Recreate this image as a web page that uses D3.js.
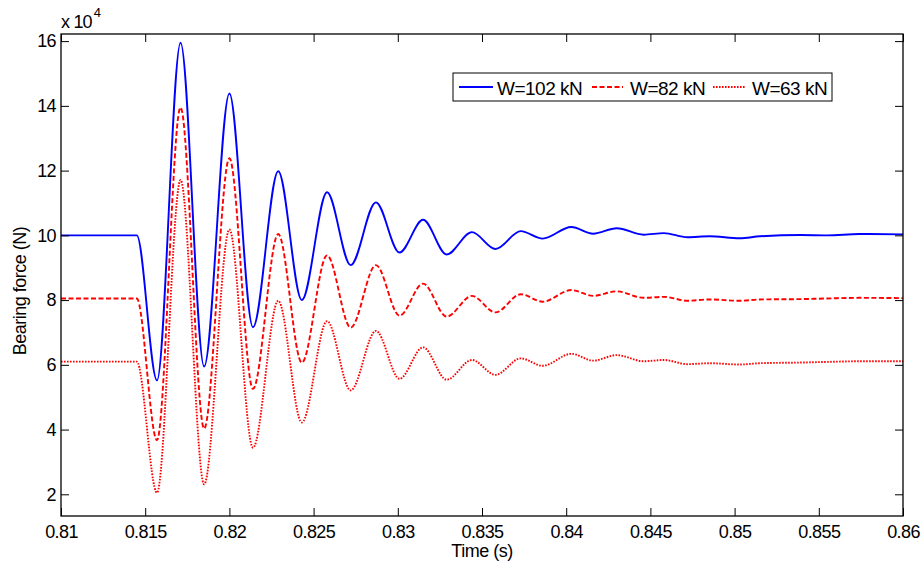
<!DOCTYPE html>
<html><head><meta charset="utf-8">
<script src="https://cdn.jsdelivr.net/npm/d3@7"></script>
<style>
html,body{margin:0;padding:0;background:#fff;}
text{font-family:"Liberation Sans",Arial,Helvetica,sans-serif;fill:#000;}
</style></head>
<body>
<svg id="chart" width="923" height="564"></svg>
<script>
// Time samples (s) at extrema of the response
const times = [0.81, 0.8145, 0.8157, 0.8171, 0.8185, 0.8200, 0.8214, 0.8229, 0.8243, 0.8258,
  0.8272, 0.8287, 0.8301, 0.8315, 0.8329, 0.8344, 0.8358, 0.8373, 0.8386, 0.8403,
  0.8416, 0.8430, 0.8446, 0.8458, 0.8472, 0.8485, 0.8503, 0.8515, 0.8539, 0.8555,
  0.8574, 0.86];
// Bearing force, in units of 10^4 N
const w102 = [10.0, 10.0, 5.52, 15.95, 5.95, 14.38, 7.16, 11.98, 8.0, 11.33,
  9.08, 11.02, 9.47, 10.48, 9.41, 10.10, 9.58, 10.13, 9.90, 10.26,
  10.05, 10.22, 10.02, 10.07, 9.94, 9.97, 9.91, 9.97, 10.01, 10.0,
  10.04, 10.03];
const w82 = [8.05, 8.05, 3.67, 13.95, 4.03, 12.38, 5.26, 10.04, 6.07, 9.38,
  7.15, 9.08, 7.52, 8.51, 7.49, 8.13, 7.62, 8.18, 7.95, 8.31,
  8.13, 8.27, 8.07, 8.10, 7.98, 8.02, 7.98, 8.02, 8.03, 8.05,
  8.07, 8.06];
const w63 = [6.10, 6.10, 2.05, 11.71, 2.31, 10.18, 3.44, 7.98, 4.22, 7.35,
  5.21, 7.05, 5.57, 6.54, 5.54, 6.15, 5.69, 6.20, 5.97, 6.34,
  6.13, 6.30, 6.11, 6.15, 6.02, 6.05, 6.01, 6.05, 6.07, 6.09,
  6.11, 6.11];
const seriesNames = ["W=102 kN", "W=82 kN", "W=63 kN"];
const xTicks = [0.81, 0.815, 0.82, 0.825, 0.83, 0.835, 0.84, 0.845, 0.85, 0.855, 0.86];
const yTicks = [2, 4, 6, 8, 10, 12, 14, 16];
const xTitle = "Time (s)";
const yTitle = "Bearing force (N)";

const svg = d3.select("#chart");
const L = 61, R = 903, T = 34, B = 516;
const x = d3.scaleLinear().domain([0.81, 0.86]).range([L, R]);
const y = d3.scaleLinear().domain([1.33, 16.22]).range([B, T]);

const styles = [
  {color: "#0000ff", dash: null},
  {color: "#ff0000", dash: "5,2.5"},
  {color: "#ff0000", dash: "1.6,1.4"}
];
const allSeries = [w102, w82, w63];

const line = d3.line().x(d => x(d[0])).y(d => y(d[1])).curve(d3.curveMonotoneX);

const g = svg.append("g");
g.append("defs").append("clipPath").attr("id", "clip")
  .append("rect").attr("x", L).attr("y", T).attr("width", R - L).attr("height", B - T);

const plot = g.append("g").attr("clip-path", "url(#clip)");
allSeries.forEach((vals, i) => {
  const pts = times.map((t, k) => [t, vals[k]]);
  plot.append("path").datum(pts)
    .attr("d", line)
    .attr("fill", "none")
    .attr("stroke", styles[i].color)
    .attr("stroke-width", 1.9)
    .attr("stroke-dasharray", styles[i].dash);
});

const fmtX = v => String(+v.toFixed(3));
const tickLen = 8;
const axB = d3.axisBottom(x).tickValues(xTicks).tickFormat(fmtX).tickSizeInner(-tickLen).tickSizeOuter(0).tickPadding(9);
const axT = d3.axisTop(x).tickValues(xTicks).tickFormat("").tickSizeInner(-tickLen).tickSizeOuter(0);
const axL = d3.axisLeft(y).tickValues(yTicks).tickFormat(d3.format("d")).tickSizeInner(-tickLen).tickSizeOuter(0).tickPadding(5);
const axR = d3.axisRight(y).tickValues(yTicks).tickFormat("").tickSizeInner(-tickLen).tickSizeOuter(0);

function styleAxis(sel) {
  sel.select(".domain").remove();
  sel.selectAll(".tick line").attr("stroke", "#000").attr("stroke-width", 1);
  sel.selectAll(".tick text").attr("font-size", 18).attr("letter-spacing", -0.6)
    .attr("font-family", "Liberation Sans, Arial, sans-serif").attr("fill", "#000");
}
g.append("g").attr("transform", `translate(0,${B})`).call(axB).call(styleAxis);
g.append("g").attr("transform", `translate(0,${T})`).call(axT).call(styleAxis);
g.append("g").attr("transform", `translate(${L},0)`).call(axL).call(styleAxis);
g.append("g").attr("transform", `translate(${R},0)`).call(axR).call(styleAxis);

g.append("rect").attr("x", L).attr("y", T).attr("width", R - L).attr("height", B - T)
  .attr("fill", "none").attr("stroke", "#000").attr("stroke-width", 1.3);

// exponent label
const ex = g.append("text").attr("x", 61).attr("y", 28).attr("font-size", 18).attr("letter-spacing", -0.8);
ex.append("tspan").text("x 10");
ex.append("tspan").attr("dy", -11).attr("dx", 2).attr("font-size", 13).text("4");

// axis titles
g.append("text").attr("x", 482).attr("y", 557).attr("text-anchor", "middle")
  .attr("font-size", 18).attr("letter-spacing", -0.5).text(xTitle);
g.append("text").attr("transform", "translate(26,291) rotate(-90)").attr("text-anchor", "middle")
  .attr("font-size", 18).attr("letter-spacing", -0.5).text(yTitle);

// legend
const lg = g.append("g");
lg.append("rect").attr("x", 453).attr("y", 73).attr("width", 379).attr("height", 28)
  .attr("fill", "#fff").attr("stroke", "#000").attr("stroke-width", 1);
const legX = [[459, 493, 497], [592, 623, 630], [713, 745, 752]];
seriesNames.forEach((name, i) => {
  lg.append("line").attr("x1", legX[i][0]).attr("x2", legX[i][1]).attr("y1", 87).attr("y2", 87)
    .attr("stroke", styles[i].color).attr("stroke-width", 1.9).attr("stroke-dasharray", styles[i].dash);
  lg.append("text").attr("x", legX[i][2]).attr("y", 95).attr("font-size", 19)
    .attr("letter-spacing", -0.5).text(name);
});
</script>
</body></html>
